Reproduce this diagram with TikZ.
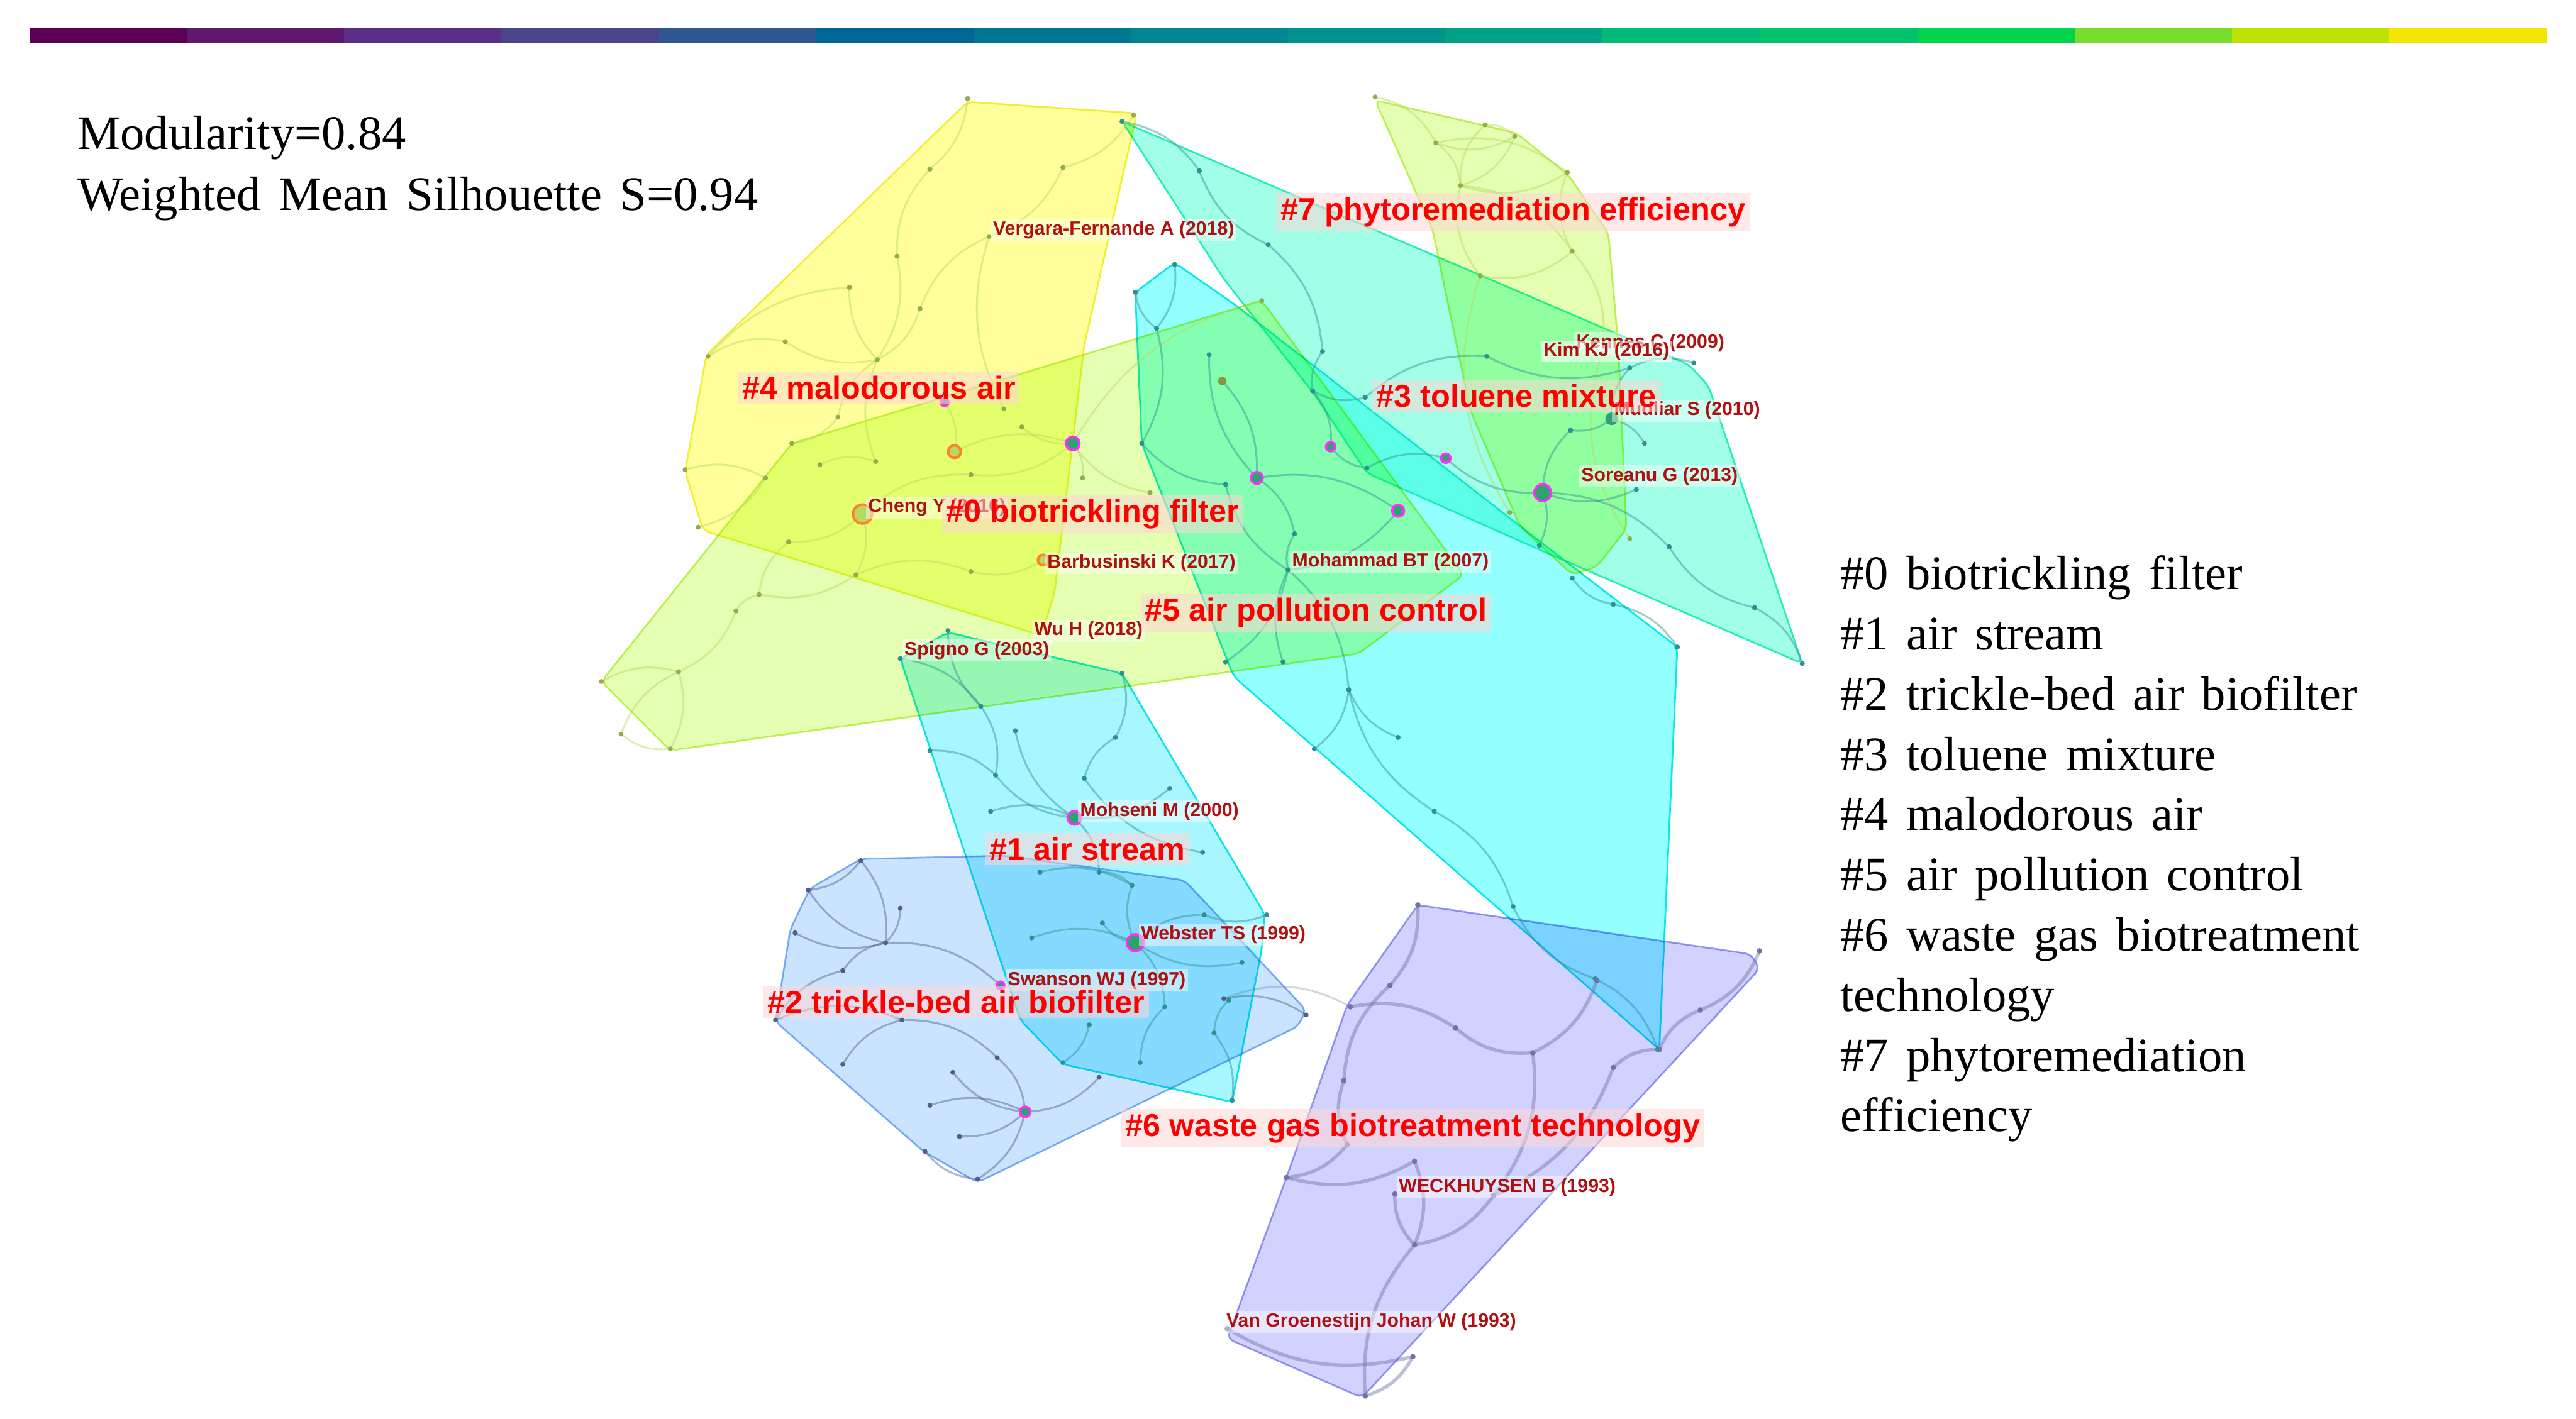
\documentclass[tikz,border=0pt]{standalone}
\usepackage{fontspec}
\setmainfont{Liberation Serif}
\newfontfamily\labelfont{Liberation Sans}
\usetikzlibrary{positioning}
\definecolor{hullyellow}{HTML}{FFFF9C}
\definecolor{hulllime}{HTML}{E4FFB2}
\definecolor{hullaqua}{HTML}{A0FFE6}
\definecolor{hullcyan}{HTML}{94FFFF}
\definecolor{hullsky}{HTML}{A8F6FF}
\definecolor{hullblue}{HTML}{CAE4FF}
\definecolor{hullviolet}{HTML}{D2D2FF}
\definecolor{edgeyellow}{HTML}{F0F040}
\definecolor{edgelime}{HTML}{C8F060}
\definecolor{edgeaqua}{HTML}{30EEC8}
\definecolor{edgecyan}{HTML}{10E8E8}
\definecolor{edgeblue}{HTML}{88B4F4}
\definecolor{edgeviolet}{HTML}{A0A0F0}
\definecolor{linkolive}{HTML}{B8D860}
\definecolor{linkteal}{HTML}{2E9090}
\definecolor{linkslate}{HTML}{506088}
\definecolor{linkviolet}{HTML}{7272A8}
\definecolor{labelred}{HTML}{FF0000}
\definecolor{authorred}{HTML}{B01010}
\definecolor{labelpink}{HTML}{FFD6D6}
\definecolor{hubpink}{HTML}{FF2EFF}
\definecolor{hubgreen}{HTML}{2FA070}
\definecolor{huborange}{HTML}{FF8030}
\protected\def\legendfont{\fontsize{22.8}{28.5}\selectfont\spaceskip 0.37em\relax}

\begin{document}
\begin{tikzpicture}[x=0.02732cm, y=-0.02732cm,
  hull/.style={rounded corners=3pt, line width=0.8pt},
  link/.style={line width=0.9pt, opacity=0.45},
  clabel/.style={font=\labelfont\bfseries\fontsize{15}{18}\selectfont,
                 text=labelred, fill=labelpink, fill opacity=0.55,
                 text opacity=1, inner sep=2pt},
  alabel/.style={font=\labelfont\bfseries\fontsize{9}{11}\selectfont,
                 text=authorred, fill=white, fill opacity=0.45,
                 text opacity=1, inner sep=1pt, anchor=west},
  legend/.style={font=\legendfont, anchor=base west, inner sep=0pt},
  hubring/.style={draw=hubpink, line width=1.1pt, fill=hubgreen}
]
  \useasboundingbox (0,0) rectangle (1568,864);

  % timeline bar
  \foreach \c [count=\i] in {5B0055,5E186E,5A2D86,4A4489,2E5690,006694,
      007690,008592,00928C,00A287,00BA78,00C36C,00D44C,78DC2C,BDE200,F5E600}
  {
    \definecolor{barseg}{HTML}{\c}
    \fill[barseg] ({18+95.75*(\i-1)},17) rectangle ++(96,9);
  }

  % cluster hulls
  \begin{scope}[blend mode=multiply]
    \filldraw[hull, fill=hullyellow, draw=edgeyellow]
      (589,62) -- (692,69) -- (660,210) -- (642,360) -- (634,387)
      -- (428,323) -- (417,287) -- (430,216) -- cycle;
    \filldraw[hull, fill=hulllime, draw=edgelime]
      (366,415) -- (482,270) -- (768,183) -- (891,350) -- (827,398)
      -- (408,457) -- cycle;
    \filldraw[hull, fill=hulllime, draw=edgelime]
      (837,61) -- (923,81) -- (955,107) -- (979,142) -- (985,210)
      -- (990,322) -- (972,345) -- (957,350) -- (925,320) -- (895,250)
      -- (872,140) -- cycle;
    \filldraw[hull, fill=hullaqua, draw=edgeaqua]
      (683,74) -- (1028,222) -- (1040,235) -- (1097,404) -- (940,336)
      -- (832,288) -- (800,240) -- (745,170) -- cycle;
    \filldraw[hull, fill=hullcyan, draw=edgecyan]
      (715,160) -- (751,185) -- (939,331) -- (1021,394) -- (1010,639)
      -- (751,412) -- (695,270) -- (691,178) -- cycle;
    \filldraw[hull, fill=hullsky, draw=edgecyan]
      (548,401) -- (577,385) -- (683,410) -- (770,557) -- (768,578)
      -- (750,671) -- (647,648) -- (621,621) -- cycle;
    \filldraw[hull, fill=hullblue, draw=edgeblue]
      (493,541) -- (524,523) -- (612,521) -- (721,536) -- (795,615)
      -- (790,625) -- (595,720) -- (562,701) -- (472,622) -- (481,566) -- cycle;
    \filldraw[hull, fill=hullviolet, draw=edgeviolet]
      (863,551) -- (1066,581) -- (1071,590) -- (829,851) -- (747,815)
      -- (783,717) -- (820,612) -- cycle;
  \end{scope}

  % network points
  \foreach \x/\y [count=\i] in {589/60,566/103,647/102,546/156,602/144,
      517/175,560/188,478/208,534/219,431/217,510/254,482/270,611/249,
      417/286,466/291,499/283,533/281,425/321,690/70}
    \coordinate (k4-\i) at (\x,\y);
  \foreach \x/\y [count=\i] in {581/275,653/270,622/260,659/291,591/289,
      591/348,635/341,462/362,521/350,366/415,413/409,378/447,408/456,
      448/372,525/313,768/183,575/245,700/300,480/330}
    \coordinate (k0-\i) at (\x,\y);
  \foreach \x/\y [count=\i] in {837/59,904/76,922/83,874/87,954/105,
      889/113,957/153,901/168,919/312,992/328,975/215}
    \coordinate (k7-\i) at (\x,\y);
  \foreach \x/\y [count=\i] in {683/74,730/104,772/149,805/214,799/238,
      831/242,905/217,992/224,981/255,956/262,1001/270,939/300,880/279,
      810/272,832/285,996/298,1016/333,1068/370,937/332,1031/221,1097/404}
    \coordinate (k3-\i) at (\x,\y);
  \foreach \x/\y [count=\i] in {715/161,691/178,704/200,736/216,744/232,
      695/270,765/291,746/295,788/325,784/347,851/311,821/420,851/449,
      800/456,746/403,781/403,873/494,921/552,971/596,1009/639,1021/394,
      982/368,957/352}
    \coordinate (k5-\i) at (\x,\y);
  \foreach \x/\y [count=\i] in {548/401,577/384,683/410,597/430,618/445,
      566/457,679/449,606/472,660/474,712/480,603/494,654/498,732/519,
      633/531,669/531,689/539,733/557,771/557,628/571,671/562,691/574,
      756/586,709/613,748/609,663/624,647/647,694/647,739/629,750/670}
    \coordinate (k1-\i) at (\x,\y);
  \foreach \x/\y [count=\i] in {524/524,492/542,548/553,484/568,539/574,
      513/591,609/600,472/621,549/621,513/648,580/653,607/644,566/673,
      624/677,584/692,563/701,595/718,669/656,795/618,745/608}
    \coordinate (k2-\i) at (\x,\y);
  \foreach \x/\y [count=\i] in {863/551,846/600,822/613,886/626,933/641,
      972/597,1010/639,1035/615,1071/579,982/650,818/658,820/697,861/707,
      783/717,849/727,909/728,861/758,860/826,831/850,747/809}
    \coordinate (k6-\i) at (\x,\y);

  % co-citation links
  \foreach \a/\b [count=\j, evaluate=\j as \bnd using {mod(\j,2)*44-22}] in
      {1/2,2/4,3/5,5/7,4/9,6/9,7/9,8/9,10/8,9/11,11/12,9/17,14/15,18/15,
       16/17,5/13,19/3,6/10}
    \draw[link, linkolive] (k4-\a) to[bend left=\bnd] (k4-\b);
  \foreach \a/\b [count=\j, evaluate=\j as \bnd using {mod(\j,2)*44-22}] in
      {10/11,11/12,11/13,11/14,14/8,8/9,9/6,6/7,15/5,5/2,1/2,3/2,2/4,2/18,
       15/19,19/8,15/9,16/2,17/1,12/13}
    \draw[link, linkolive] (k0-\a) to[bend left=\bnd] (k0-\b);
  \foreach \a/\b [count=\j, evaluate=\j as \bnd using {mod(\j,2)*50-25}] in
      {1/4,4/3,4/5,2/6,3/6,6/5,6/7,5/7,4/6,8/7,8/6,8/9,7/11,11/10,2/3}
    \draw[link, linkolive] (k7-\a) to[bend left=\bnd] (k7-\b);
  \foreach \a/\b [count=\j, evaluate=\j as \bnd using {mod(\j,2)*44-22}] in
      {1/2,2/3,3/4,4/5,5/14,14/15,6/7,7/8,8/20,10/9,9/11,12/16,12/10,13/12,
       12/17,17/18,18/21,19/12,15/13,5/6,9/8}
    \draw[link, linkteal] (k3-\a) to[bend left=\bnd] (k3-\b);
  \foreach \a/\b [count=\j, evaluate=\j as \bnd using {mod(\j,2)*44-22}] in
      {1/3,2/3,3/6,4/7,5/7,6/8,7/9,9/10,10/12,12/13,12/14,15/10,16/10,
       12/17,17/18,18/19,19/20,21/22,22/23,10/11,7/11,8/10}
    \draw[link, linkteal] (k5-\a) to[bend left=\bnd] (k5-\b);
  \foreach \a/\b [count=\j, evaluate=\j as \bnd using {mod(\j,2)*44-22}] in
      {1/4,2/4,4/8,5/12,3/7,7/9,6/8,8/12,11/12,12/10,12/15,9/13,14/16,
       16/21,19/21,20/21,21/17,21/22,21/23,23/27,25/26,24/28,28/29,17/18,15/16}
    \draw[link, linkteal] (k1-\a) to[bend left=\bnd] (k1-\b);
  \foreach \a/\b [count=\j, evaluate=\j as \bnd using {mod(\j,2)*44-22}] in
      {1/2,2/5,1/5,4/5,3/5,5/6,5/7,6/8,8/9,9/10,9/12,11/14,13/14,15/14,
       14/17,16/17,12/14,14/18,20/19}
    \draw[link, linkslate] (k2-\a) to[bend left=\bnd] (k2-\b);
  \foreach \a/\b [count=\j, evaluate=\j as \bnd using {mod(\j,2)*44-22}] in
      {1/2,2/11,3/4,4/5,5/16,7/10,10/16,11/12,12/14,14/13,13/17,15/17,16/17,
       17/19,18/19,20/18,7/8,8/9,6/5}
    \draw[link, linkviolet, line width=1.6pt] (k6-\a) to[bend left=\bnd] (k6-\b);
  \draw[link, linkslate, opacity=0.25] (k2-20) to[bend left=25] (k6-3);

  % plain nodes
  \foreach \i in {1,...,19} \fill[linkolive!80!black] (k4-\i) circle (1.2pt);
  \foreach \i in {1,...,19} \fill[linkolive!80!black] (k0-\i) circle (1.2pt);
  \foreach \i in {1,...,11} \fill[linkolive!80!black] (k7-\i) circle (1.2pt);
  \foreach \i in {1,...,21} \fill[linkteal] (k3-\i) circle (1.2pt);
  \foreach \i in {1,...,23} \fill[linkteal] (k5-\i) circle (1.2pt);
  \foreach \i in {1,...,29} \fill[linkteal] (k1-\i) circle (1.2pt);
  \foreach \i in {1,...,20} \fill[linkslate] (k2-\i) circle (1.2pt);
  \foreach \i in {1,...,20} \fill[linkviolet] (k6-\i) circle (1.3pt);

  % betweenness hubs
  \foreach \n/\r in {k0-2/3.2,k5-7/2.8,k5-11/2.8,k3-14/2.2,k3-13/2.2,
      k3-12/4,k1-12/3.2,k1-21/4,k2-14/2.5,k2-7/1.8,k0-17/1.8}
    \filldraw[hubring] (\n) circle (\r pt);
  \foreach \n/\r in {k0-15/4.5,k0-1/3,k0-7/2.5}
    \filldraw[draw=huborange, line width=1.2pt, fill=linkolive] (\n) circle (\r pt);
  \fill[hubgreen] (k3-9) circle (3pt);
  \fill[linkolive!70!black] (k5-5) circle (2pt);

  % cited references
  \node[alabel] (vergara) at (603,140) {Vergara-Fernande A (2018)};
  \node[alabel] (kennes) at (958,209) {Kennes C (2009)};
  \node[alabel, fill opacity=0.6] (kim) at (938,214) {Kim KJ (2016)};
  \node[alabel] (mudliar) at (981,250) {Mudliar S (2010)};
  \node[alabel] (soreanu) at (961,290) {Soreanu G (2013)};
  \node[alabel] (cheng) at (527,309) {Cheng Y (2016)};
  \node[alabel] (barbus) at (636,343) {Barbusinski K (2017)};
  \node[alabel] (mohammad) at (785,342) {Mohammad BT (2007)};
  \node[alabel] (wuh) at (628,384) {Wu H (2018)};
  \node[alabel] (spigno) at (549,396) {Spigno G (2003)};
  \node[alabel] (mohseni) at (656,494) {Mohseni M (2000)};
  \node[alabel] (webster) at (693,569) {Webster TS (1999)};
  \node[alabel] (swanson) at (612,597) {Swanson WJ (1997)};
  \node[alabel] (weck) at (850,723) {WECKHUYSEN B (1993)};
  \node[alabel] (vangroen) at (745,805) {Van Groenestijn Johan W (1993)};

  % cluster labels
  \node[clabel] (c7) at (921,129) {\#7 phytoremediation efficiency};
  \node[clabel] (c4) at (535,236) {\#4 malodorous air};
  \node[clabel] (c3) at (923,241) {\#3 toluene mixture};
  \node[clabel] (c0) at (665,313) {\#0 biotrickling filter};
  \node[clabel] (c5) at (801,373) {\#5 air pollution control};
  \node[clabel] (c1) at (662,517) {\#1 air stream};
  \node[clabel] (c2) at (582,610) {\#2 trickle-bed air biofilter};
  \node[clabel] (c6) at (860,687) {\#6 waste gas biotreatment technology};

  % metrics and legend
  \node[legend] (modq) at (47,91) {Modularity=0.84};
  \node[legend] (silh) at (47,128) {Weighted Mean Silhouette S=0.94};
  \foreach \t [count=\i] in {\#0 biotrickling filter, \#1 air stream,
      \#2 trickle-bed air biofilter, \#3 toluene mixture,
      \#4 malodorous air, \#5 air pollution control,
      \#6 waste gas biotreatment, technology,
      \#7 phytoremediation, efficiency}
    \node[legend] (leg\i) at (1120,{359+36.67*(\i-1)}) {\t};
\end{tikzpicture}
\end{document}
